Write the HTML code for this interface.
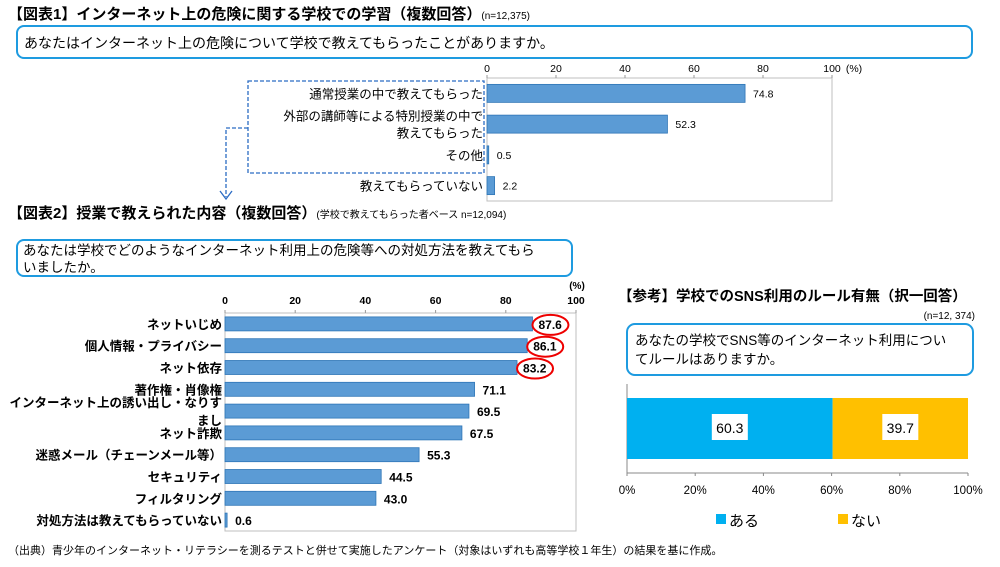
<!DOCTYPE html>
<html><head><meta charset="utf-8">
<style>
body{margin:0;background:#fff;width:1000px;height:562px;overflow:hidden;font-family:"Liberation Sans","Noto Sans CJK JP",sans-serif;}
svg text{font-family:"Liberation Sans","Noto Sans CJK JP",sans-serif;}
</style></head>
<body>
<svg id="s" width="1000" height="562" viewBox="0 0 1000 562" xmlns="http://www.w3.org/2000/svg">
<text x="8" y="19" font-size="15" font-weight="bold">【図表1】インターネット上の危険に関する学校での学習（複数回答）<tspan font-size="10" font-weight="normal">(n=12,375)</tspan></text>
<rect x="17" y="26" width="955" height="32" rx="7" fill="#fff" stroke="#1e9be0" stroke-width="2"/>
<text x="24" y="48" font-size="14">あなたはインターネット上の危険について学校で教えてもらったことがありますか。</text>
<rect x="248" y="81" width="236" height="92" fill="none" stroke="#2b6cc4" stroke-width="1.3" stroke-dasharray="4,2"/>
<path d="M248 128 H226 V197" fill="none" stroke="#2b6cc4" stroke-width="1.3" stroke-dasharray="4,2"/>
<path d="M220 191 L226 199 L232 191" fill="none" stroke="#2b6cc4" stroke-width="1.3"/>
<g id="c1"></g>
<text x="8" y="218" font-size="15" font-weight="bold">【図表2】授業で教えられた内容（複数回答）<tspan font-size="10" font-weight="normal">(学校で教えてもらった者ベース n=12,094)</tspan></text>
<rect x="17" y="240" width="555" height="36" rx="7" fill="#fff" stroke="#1e9be0" stroke-width="2"/>
<text x="23" y="255" font-size="13.5">あなたは学校でどのようなインターネット利用上の危険等への対処方法を教えてもら</text>
<text x="23" y="272" font-size="13.5">いましたか。</text>
<text x="577" y="289" font-size="10" font-weight="bold" text-anchor="middle">(%)</text>
<g id="c2"></g>
<text x="618" y="301" font-size="14.5" font-weight="bold">【参考】学校でのSNS利用のルール有無（択一回答）</text>
<text x="975" y="319" font-size="10" text-anchor="end" font-family="Liberation Serif">(n=12, 374)</text>
<rect x="627" y="324" width="346" height="51" rx="8" fill="#fff" stroke="#1e9be0" stroke-width="2"/>
<text x="635" y="345" font-size="13.5">あなたの学校でSNS等のインターネット利用につい</text>
<text x="635" y="364" font-size="13.5">てルールはありますか。</text>
<g id="c3"></g>
<text x="8" y="554" font-size="11" font-family="Liberation Serif, Noto Serif CJK SC, serif">（出典）青少年のインターネット・リテラシーを測るテストと併せて実施したアンケート（対象はいずれも高等学校１年生）の結果を基に作成。</text>
</svg>
<script>
const c1Cats=[["通常授業の中で教えてもらった"],["外部の講師等による特別授業の中で","教えてもらった"],["その他"],["教えてもらっていない"]];
const c1Vals=[74.8,52.3,0.5,2.2];
const c1Labels=["74.8","52.3","0.5","2.2"];
const c2Cats=[["ネットいじめ"],["個人情報・プライバシー"],["ネット依存"],["著作権・肖像権"],["インターネット上の誘い出し・なりす","まし"],["ネット詐欺"],["迷惑メール（チェーンメール等）"],["セキュリティ"],["フィルタリング"],["対処方法は教えてもらっていない"]];
const c2Vals=[87.6,86.1,83.2,71.1,69.5,67.5,55.3,44.5,43.0,0.6];
const c2Labels=["87.6","86.1","83.2","71.1","69.5","67.5","55.3","44.5","43.0","0.6"];
const c2Circled=[true,true,true,false,false,false,false,false,false,false];
const ticks=[0,20,40,60,80,100];
const c3Cats=["ある","ない"];
const c3Vals=[60.3,39.7];
const c3Colors=["#00b0f0","#ffc000"];
const c3Ticks=[0,20,40,60,80,100];
const NS="http://www.w3.org/2000/svg";
function mk(p,tag,at,txt){const e=document.createElementNS(NS,tag);for(const k in at)e.setAttribute(k,at[k]);if(txt!==undefined)e.textContent=txt;p.appendChild(e);return e;}
// chart1
(function(){
const g=document.getElementById('c1');
const x0=487,x1=832,top=78,bot=201;
const X=v=>x0+(x1-x0)*v/100;
const bw=(bot-top)/c1Vals.length;
let r=mk(g,'rect',{x:x0,y:top,width:x1-x0,height:bot-top,fill:'#fff',stroke:'#bfbfbf'});


ticks.forEach(t=>{let tx=mk(g,'text',{x:X(t),y:72,'font-size':10.5,'text-anchor':'middle'},String(t));


mk(g,'line',{x1:X(t),x2:X(t),y1:top-3,y2:top,stroke:'#999'});});
let u=mk(g,'text',{x:x1+22,y:72,'font-size':10.5,'text-anchor':'middle'},'(%)');


c1Vals.forEach((v,i)=>{const cy=top+bw*(i+0.5);
let b=mk(g,'rect',{x:x0,y:cy-9,width:Math.max(X(v)-x0,1.5),height:18,fill:'#5b9bd5',stroke:'#2e75b6','stroke-width':0.8});


let l=mk(g,'text',{x:X(v)+8,y:cy+4,'font-size':10.5},c1Labels[i]);


const lines=c1Cats[i];
lines.forEach((s,j)=>{let c=mk(g,'text',{x:x0-4,y:cy+5+(j-(lines.length-1)/2)*17,'font-size':12.5,'text-anchor':'end'},s);

});
});
})();
// chart2
(function(){
const g=document.getElementById('c2');
const x0=225,x1=576,top=313,bot=531;
const X=v=>x0+(x1-x0)*v/100;
const bw=(bot-top)/c2Vals.length;
let r=mk(g,'rect',{x:x0,y:top,width:x1-x0,height:bot-top,fill:'#fff',stroke:'#bfbfbf'});


ticks.forEach(t=>{let tx=mk(g,'text',{x:X(t),y:304,'font-size':10.5,'font-weight':'bold','text-anchor':'middle'},String(t));


mk(g,'line',{x1:X(t),x2:X(t),y1:top-3,y2:top,stroke:'#999'});});
c2Vals.forEach((v,i)=>{const cy=top+bw*(i+0.5);
let b=mk(g,'rect',{x:x0,y:cy-7,width:Math.max(X(v)-x0,1.5),height:14,fill:'#5b9bd5',stroke:'#2e75b6','stroke-width':0.8});


const lx=X(v)+(c2Circled[i]?6:8);
let l=mk(g,'text',{x:lx,y:cy+5,'font-size':12,'font-weight':'bold'},c2Labels[i]);


if(c2Circled[i]){let e=mk(g,'ellipse',{cx:lx+12,cy:cy+1,rx:18,ry:10,fill:'none',stroke:'#e00',"stroke-width":2});

}
const lines=c2Cats[i];
lines.forEach((s,j)=>{let c=mk(g,'text',{x:x0-3,y:cy+5+(j-(lines.length-1)/2)*18,'font-size':12.5,'font-weight':'bold','text-anchor':'end'},s);

});
});
})();
// chart3
(function(){
const g=document.getElementById('c3');
const x0=627,x1=968,by=398,bh=61,ay=473;
const X=v=>x0+(x1-x0)*v/100;
mk(g,'line',{x1:x0,x2:x0,y1:384,y2:ay,stroke:'#888'});
mk(g,'line',{x1:x0,x2:x1,y1:ay,y2:ay,stroke:'#888'});
c3Ticks.forEach(t=>{mk(g,'line',{x1:X(t),x2:X(t),y1:ay,y2:ay+3,stroke:'#888'});
let tx=mk(g,'text',{x:X(t),y:494,'font-size':11.5,'text-anchor':'middle'},t+'%');

});
let acc=0;
c3Vals.forEach((v,i)=>{const xa=X(acc),xb=X(acc+v);acc+=v;
let b=mk(g,'rect',{x:xa,y:by,width:xb-xa,height:bh,fill:c3Colors[i]});


const cx=(xa+xb)/2;
mk(g,'rect',{x:cx-18,y:by+16,width:36,height:26,fill:'#fff'});
let l=mk(g,'text',{x:cx,y:by+35,'font-size':14,'text-anchor':'middle'},v.toFixed(1));


const lx=[716,838][i];
let sq=mk(g,'rect',{x:lx,y:514,width:10,height:10,fill:c3Colors[i]});


let lt=mk(g,'text',{x:lx+13,y:526,'font-size':15},c3Cats[i]);


});
})();
</script>
</body></html>
